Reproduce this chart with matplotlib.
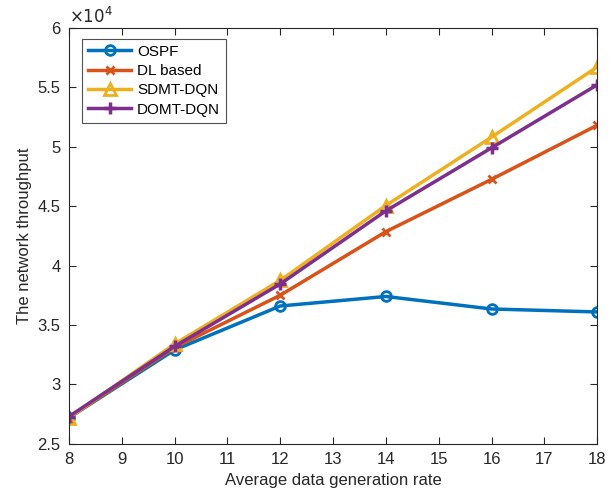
import matplotlib
matplotlib.use("Agg")
import matplotlib.pyplot as plt
import numpy as np

plt.rcParams['font.family'] = ['Liberation Sans', 'DejaVu Sans']

rate = [8, 10, 12, 14, 16, 18]
ospf = [2.72, 3.29, 3.66, 3.74, 3.635, 3.61]
dl_based = [2.72, 3.31, 3.75, 4.285, 4.725, 5.18]
sdmt_dqn = [2.72, 3.34, 3.875, 4.505, 5.08, 5.67]
domt_dqn = [2.73, 3.32, 3.845, 4.46, 4.99, 5.52]

fig = plt.figure(figsize=(6.15, 4.96), dpi=100)
ax = fig.add_axes([0.112, 0.105, 0.859, 0.839])

ax.plot(rate, ospf, color=(0, 0.447, 0.741), lw=2.5, marker='o', ms=7,
        mfc='none', mew=2, label='OSPF')
ax.plot(rate, dl_based, color=(0.85, 0.325, 0.098), lw=2.5, marker='x', ms=6,
        mew=2, label='DL based')
ax.plot(rate, sdmt_dqn, color=(0.929, 0.694, 0.125), lw=2.5, marker='^', ms=9,
        mfc='none', mew=2, label='SDMT-DQN')
ax.plot(rate, domt_dqn, color=(0.494, 0.184, 0.556), lw=2.5, marker='+', ms=9,
        mew=2.5, label='DOMT-DQN')

ax.set_xlim(8, 18)
ax.set_ylim(2.5, 6)
ax.set_xticks(np.arange(8, 19, 1))
ax.set_yticks(np.arange(2.5, 6.01, 0.5))
ax.set_yticklabels(['2.5', '3', '3.5', '4', '4.5', '5', '5.5', '6'])

axis_col = (0.15, 0.15, 0.15)
for s in ax.spines.values():
    s.set_color(axis_col)
    s.set_linewidth(0.8)
ax.tick_params(direction='in', length=5, width=0.8, colors=axis_col,
               labelsize=12, top=True, right=True, pad=6)

ax.set_xlabel('Average data generation rate', fontsize=12, color=axis_col)
ax.set_ylabel('The network throughput', fontsize=12, color=axis_col)
ax.text(0.0, 1.005, r'$\times10^4$', transform=ax.transAxes, fontsize=12,
        color=axis_col, ha='left', va='bottom')

leg = ax.legend(loc='upper left', bbox_to_anchor=(0.025, 0.974), fontsize=11,
                frameon=True, fancybox=False, edgecolor=axis_col,
                borderaxespad=0, handlelength=2.8, borderpad=0.4,
                labelspacing=0.35, handletextpad=0.4)
leg.get_frame().set_linewidth(0.8)

fig.savefig('out.png', dpi=100)
